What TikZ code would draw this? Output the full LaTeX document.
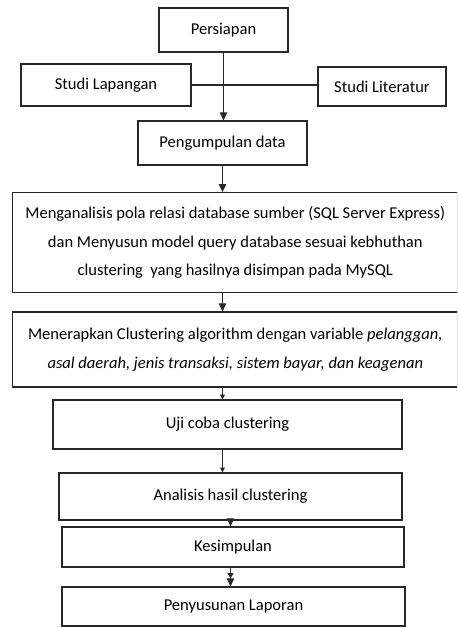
\documentclass[tikz,border=0pt]{standalone}
\usepackage{fontspec}
\setmainfont{Carlito}
\usetikzlibrary{arrows.meta}

\tikzset{every picture/.style={line width=0.9pt}}
\tikzset{
  stepbox/.style={draw={rgb, 255:red, 40; green, 40; blue, 40 }, inner sep=0.75pt, align=center, font=\fontsize{12.4}{21.5}\selectfont},
  flow/.style={draw={rgb, 255:red, 40; green, 40; blue, 40 }, line width=0.75pt, -{Triangle[width=5.5pt,length=6pt]}},
  thinflow/.style={draw={rgb, 255:red, 40; green, 40; blue, 40 }, line width=0.75pt, -{Triangle[width=3.5pt,length=3.5pt]}},
  twoflow/.style={draw={rgb, 255:red, 40; green, 40; blue, 40 }, line width=0.75pt, -{Triangle[width=4.5pt,length=4pt] Triangle[width=5.5pt,length=6pt]}}
}

\begin{document}
\begin{tikzpicture}[x=0.75pt,y=0.75pt,yscale=-1,xscale=1]
\useasboundingbox (0,0) rectangle (457,628);
\clip (0,0) rectangle (457,628);

% Boxes
\node [stepbox, minimum width=96.75pt, minimum height=33pt] (persiapan) at (223.5,30) {Persiapan};
\node [stepbox, minimum width=127.5pt, minimum height=31.5pt] (lapangan) at (106,85) {Studi Lapangan};
\node [stepbox, minimum width=96pt, minimum height=29.25pt] (literatur) at (382,86.5) {Studi Literatur};
\node [stepbox, minimum width=126.75pt, minimum height=33pt] (pengumpulan) at (222.5,143) {Pengumpulan data};
\node [stepbox, minimum width=334pt, minimum height=75pt] (analisa) at (235.3,242.7) {Menganalisis pola relasi database sumber (SQL Server Express)\\dan Menyusun model query database sesuai kebhuthan\\clustering~ yang hasilnya disimpan pada MySQL};
\node [stepbox, minimum width=334pt, minimum height=56.25pt] (terapkan) at (235.3,349.5) {Menerapkan Clustering algorithm dengan variable \textit{pelanggan,}\\\textit{asal daerah, jenis transaksi, sistem bayar, dan keagenan}};
\node [stepbox, minimum width=261.75pt, minimum height=36.75pt] (ujicoba) at (227.5,424.5) {Uji coba clustering};
\node [stepbox, minimum width=257.25pt, minimum height=35.25pt] (hasil) at (230.5,496.5) {Analisis hasil clustering};
\node [stepbox, minimum width=256.5pt, minimum height=30pt] (kesimpulan) at (233,547) {Kesimpulan};
\node [stepbox, minimum width=257.25pt, minimum height=29.25pt] (laporan) at (233.5,606.5) {Penyusunan Laporan};

% Connectors
\draw [draw={rgb, 255:red, 40; green, 40; blue, 40 }] (lapangan.east) -- (lapangan.east -| literatur.west);
\draw [flow] (persiapan.south) -- (persiapan.south |- pengumpulan.north);
\draw [flow] (pengumpulan.south) -- (pengumpulan.south |- analisa.north);
\draw [flow] (analisa.south -| pengumpulan.south) -- (terapkan.north -| pengumpulan.south);
\draw [thinflow] (terapkan.south -| pengumpulan.south) -- (ujicoba.north -| pengumpulan.south);
\draw [thinflow] (ujicoba.south -| pengumpulan.south) -- (hasil.north -| pengumpulan.south);
\draw [flow] (hasil.south) -- (hasil.south |- kesimpulan.north);
\draw [twoflow] (kesimpulan.south -| hasil.south) -- (laporan.north -| hasil.south);

\end{tikzpicture}
\end{document}
